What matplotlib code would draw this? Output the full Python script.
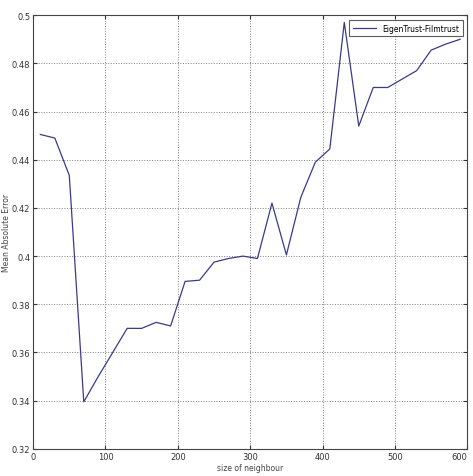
import matplotlib
matplotlib.use("Agg")
import matplotlib.pyplot as plt
from matplotlib.ticker import FuncFormatter

# neighbourhood sizes and MAE values
neighbour_size = [10, 30, 50, 70, 90, 110, 130, 150, 170, 190,
                  210, 230, 250, 270, 290, 310, 330, 350, 370, 390,
                  410, 430, 450, 470, 490, 510, 530, 550, 570, 590]
mae = [0.4505, 0.449, 0.4335, 0.3395, 0.350, 0.360, 0.370, 0.370, 0.3725, 0.371,
       0.3895, 0.390, 0.3975, 0.399, 0.400, 0.399, 0.422, 0.4005, 0.4245, 0.439,
       0.4445, 0.497, 0.454, 0.470, 0.470, 0.4735, 0.477, 0.4855, 0.488, 0.490]

x_ticks = [0, 100, 200, 300, 400, 500, 600]
y_ticks = [0.32, 0.34, 0.36, 0.38, 0.40, 0.42, 0.44, 0.46, 0.48, 0.50]

plt.rcParams['font.family'] = ['Liberation Sans Narrow', 'DejaVu Sans']

fig = plt.figure(figsize=(4.73, 4.77), dpi=100)
ax = fig.add_axes([0.070, 0.057, 0.918, 0.909])

ax.plot(neighbour_size, mae, color='#3a3a8c', linewidth=0.9,
        label='EigenTrust-Filmtrust')

ax.set_xlim(0, 600)
ax.set_ylim(0.32, 0.50)
ax.set_xticks(x_ticks)
ax.set_yticks(y_ticks)
ax.yaxis.set_major_formatter(FuncFormatter(lambda v, p: f"{v:g}"))
ax.tick_params(direction='in', length=3, labelsize=6, colors='#333333',
               top=True, right=True, pad=2)
ax.grid(True, linestyle=':', color='#808080', linewidth=0.7)
# last x label sits on the figure edge; keep it inside
ax.get_xticklabels()[-1].set_horizontalalignment('right')

for s in ax.spines.values():
    s.set_color('#444444')
    s.set_linewidth(0.8)

ax.set_xlabel('size of neighbour', fontsize=5.5, color='#444444', labelpad=2)
ax.set_ylabel('Mean Absolute Error', fontsize=5.5, color='#444444')
ax.yaxis.set_label_coords(-0.050, 0.5)

leg = ax.legend(loc='upper right', fontsize=5.5, frameon=True, fancybox=False,
                borderaxespad=0.6, handlelength=3, borderpad=0.5)
leg.get_frame().set_edgecolor('#333333')
leg.get_frame().set_linewidth(0.8)

fig.savefig('out.png', dpi=100)
